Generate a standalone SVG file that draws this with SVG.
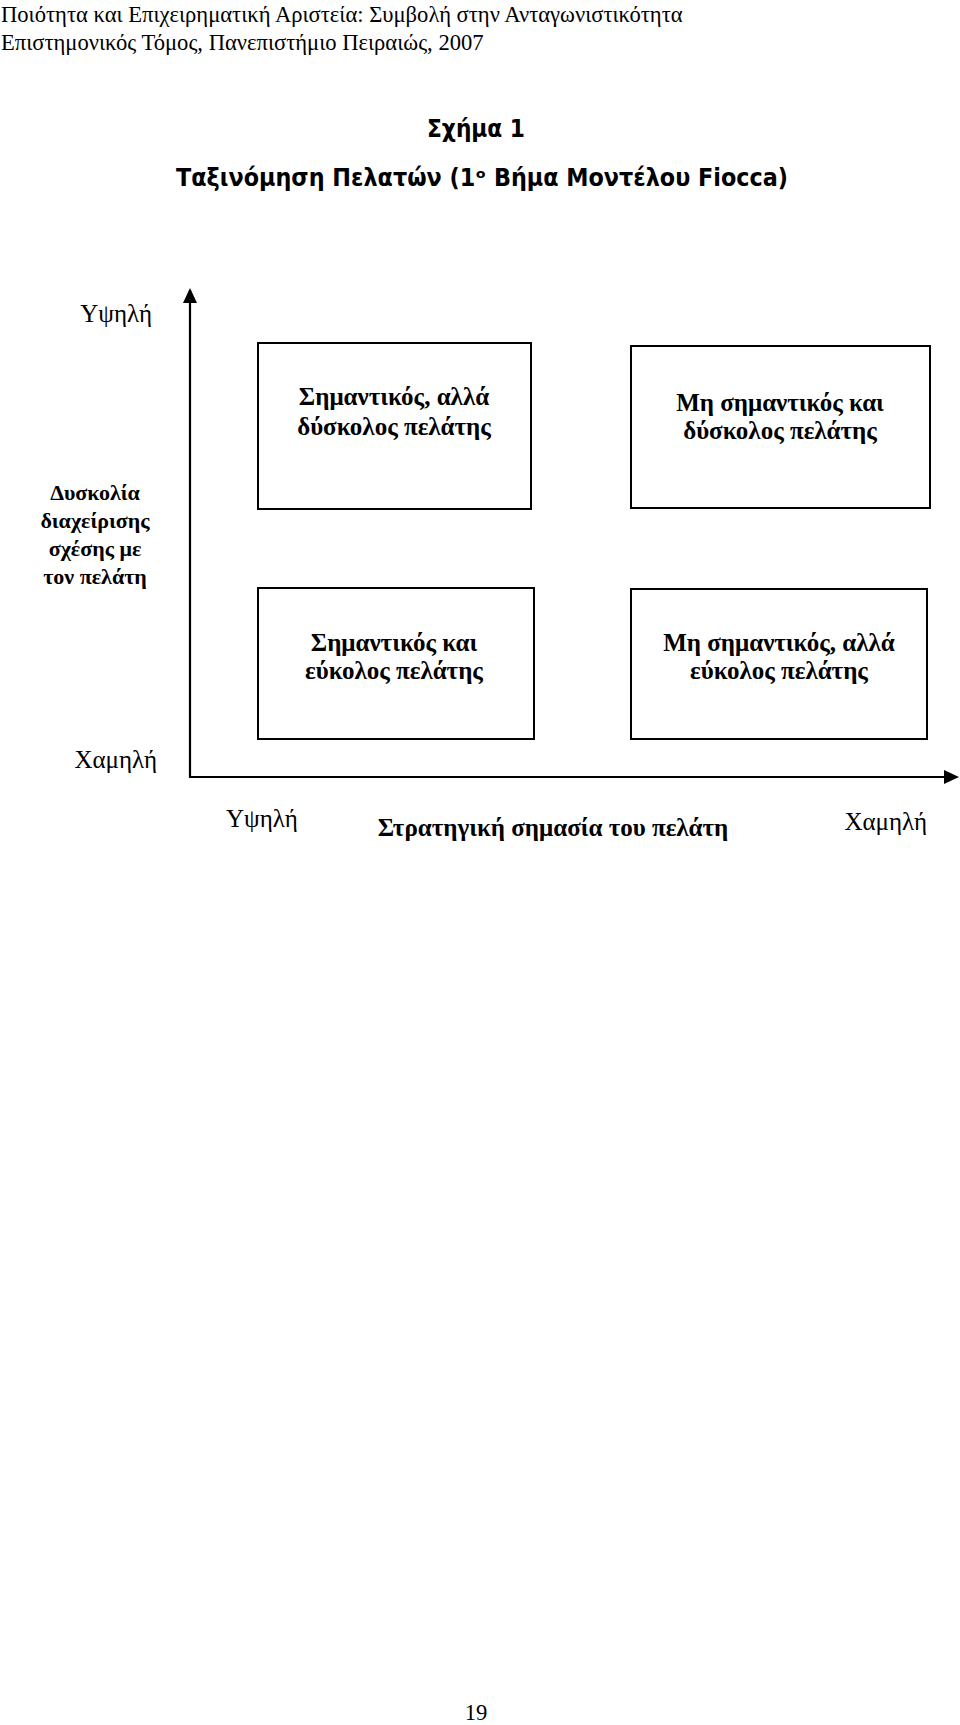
<svg xmlns="http://www.w3.org/2000/svg" width="960" height="1725" viewBox="0 0 960 1725">
<style>
.hdr{font-family:"Liberation Serif","Times New Roman",serif;font-size:22.6px;fill:#000}
.ttl{font-family:"DejaVu Sans",Verdana,sans-serif;font-weight:bold;fill:#000;text-anchor:middle}
.box{fill:#fff;stroke:#000;stroke-width:2}
.bt{font-family:"Liberation Serif","Times New Roman",serif;font-size:25px;font-weight:bold;fill:#000;text-anchor:middle}
.lt{font-family:"Liberation Serif","Times New Roman",serif;font-size:22px;font-weight:bold;fill:#000;text-anchor:middle}
.ax{font-family:"Liberation Serif","Times New Roman",serif;font-size:25px;fill:#000}
.axis{stroke:#000;stroke-width:2.2;fill:none}
</style>
<rect width="960" height="1725" fill="#fff"/>
<g id="header">
<text class="hdr" x="1" y="22">Ποιότητα και Επιχειρηματική Αριστεία: Συμβολή στην Ανταγωνιστικότητα</text>
<text class="hdr" x="1" y="50">Επιστημονικός Τόμος, Πανεπιστήμιο Πειραιώς, 2007</text>
</g>
<g id="title">
<text class="ttl" x="476" y="137" font-size="24" textLength="98" lengthAdjust="spacingAndGlyphs">Σχήμα 1</text>
<text class="ttl" x="482" y="186" font-size="24" textLength="612" lengthAdjust="spacingAndGlyphs">Ταξινόμηση Πελατών (1ᵒ Βήμα Μοντέλου Fiocca)</text>
</g>
<g id="connectors">
<path class="axis" d="M190,778 L190,290"/>
<path d="M183,303 L190,288 L197,303 Z" fill="#000"/>
<path class="axis" d="M189,777 L945,777"/>
<path d="M944,770 L959,777 L944,784 Z" fill="#000"/>
</g>
<g id="box1">
<rect class="box" x="258" y="343" width="273" height="166"/>
<text class="bt" x="394" y="405">Σημαντικός, αλλά</text>
<text class="bt" x="394" y="435">δύσκολος πελάτης</text>
</g>
<g id="box2">
<rect class="box" x="631" y="346" width="299" height="162"/>
<text class="bt" x="780" y="411">Μη σημαντικός και</text>
<text class="bt" x="780" y="439">δύσκολος πελάτης</text>
</g>
<g id="box3">
<rect class="box" x="258" y="588" width="276" height="151"/>
<text class="bt" x="394" y="651">Σημαντικός και</text>
<text class="bt" x="394" y="679">εύκολος πελάτης</text>
</g>
<g id="box4">
<rect class="box" x="631" y="589" width="296" height="150"/>
<text class="bt" x="779" y="651">Μη σημαντικός, αλλά</text>
<text class="bt" x="779" y="679">εύκολος πελάτης</text>
</g>
<g id="y-labels">
<text class="ax" x="152" y="322" text-anchor="end">Υψηλή</text>
<text class="lt" x="95" y="500">Δυσκολία</text>
<text class="lt" x="95" y="528">διαχείρισης</text>
<text class="lt" x="95" y="556">σχέσης με</text>
<text class="lt" x="95" y="584">τον πελάτη</text>
<text class="ax" x="157" y="768" text-anchor="end">Χαμηλή</text>
</g>
<g id="x-labels">
<text class="ax" x="226" y="827">Υψηλή</text>
<text class="bt" x="553" y="836">Στρατηγική σημασία του πελάτη</text>
<text class="ax" x="927" y="830" text-anchor="end">Χαμηλή</text>
</g>
<g id="footer">
<text class="hdr" x="476" y="1720" text-anchor="middle">19</text>
</g>
</svg>
